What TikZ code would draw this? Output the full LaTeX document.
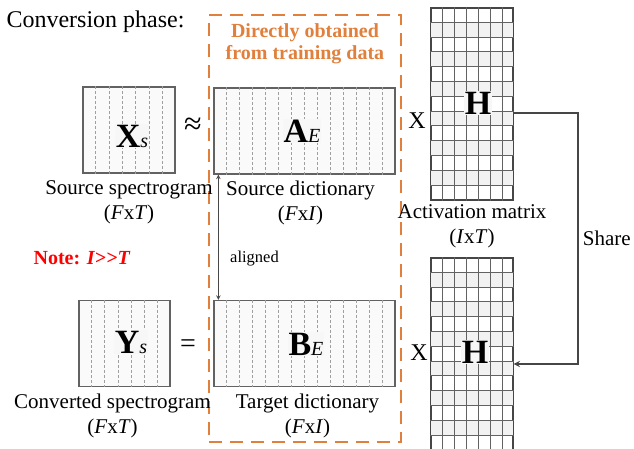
\documentclass[tikz,border=0pt]{standalone}
\usepackage{fontspec}
\setmainfont{Liberation Serif}
\usetikzlibrary{calc}

\definecolor{trainorange}{RGB}{224,128,60}
\definecolor{linegray}{RGB}{70,70,70}
\newcommand{\fsz}[1]{\fontsize{#1}{#1}\selectfont}

\tikzset{
  specbox/.style={draw=linegray!85, line width=1.3pt, fill=gray!4, inner sep=0pt,
    minimum width=#1, minimum height=86pt},
  hbox/.style={draw=linegray, line width=1.2pt, fill=white, inner sep=0pt,
    minimum width=82pt, minimum height=192pt},
  trainbox/.style={draw=trainorange, line width=1.8pt, dash pattern=on 13pt off 8pt,
    minimum width=192pt, minimum height=427pt, inner sep=0pt},
  colline/.style={gray!75, densely dashed, line width=0.6pt},
  gridline/.style={linegray!85, line width=0.8pt},
  bigletter/.style={font=\bfseries\fsz{34}, fill=gray!6, inner sep=1pt},
  oper/.style={font=\fsz{24}},
  lbl/.style={font=\fontsize{21}{25}\selectfont, align=center},
}

\begin{document}
\begin{tikzpicture}[x=1pt, y=-1pt, >=stealth]
  \useasboundingbox (0,0) rectangle (634,449);

  % Title and training box
  \node[anchor=west, font=\fsz{24}] (phase) at (3,22) {Conversion phase:};
  \node[trainbox] (train) at (305,228.5) {};
  \node[below=6pt, align=center, text=trainorange, font=\bfseries\fontsize{20}{22}\selectfont]
    (traintxt) at (train.north) {Directly obtained\\from training data};

  % Spectrogram and dictionary boxes
  \node[specbox=92pt] (xs) at (129,130) {};
  \node[specbox=181pt] (ae) at (304.5,131) {};
  \node[specbox=91pt] (ys) at (124.5,343.5) {};
  \node[specbox=181pt] (be) at (304.5,343.5) {};
  \foreach \b/\n in {xs/7,ys/7,ae/14,be/14} {
    \pgfmathtruncatemacro{\m}{\n-1}
    \foreach \k in {1,...,\m}
      \draw[colline] ($(\b.north west)!\k/\n!(\b.north east)$) -- ($(\b.south west)!\k/\n!(\b.south east)$);
  }

  % Activation matrices
  \node[hbox] (hA) at (472,104) {};
  \node[hbox] (hB) at (472,354) {};
  \foreach \b in {hA,hB} {
    \foreach \k in {1,3,...,11}
      \fill[gray!10] ($(\b.north west)+(1,14.8*\k)$) rectangle ($(\b.north east)+(-1,14.8*\k+14.8)$);
    \foreach \k in {1,...,6}
      \draw[gridline] ($(\b.north west)+(12*\k,0)$) -- ($(\b.south west)+(12*\k,0)$);
    \foreach \k in {1,...,12}
      \draw[gridline] ($(\b.north west)+(0,14.8*\k)$) -- ($(\b.north east)+(0,14.8*\k)$);
  }

  % Matrix letters
  \node[bigletter] (xsl) at (132,136) {X{\mdseries\itshape\fsz{20}s}};
  \node[bigletter] (ael) at (302,131) {A{\mdseries\itshape\fsz{20}E}};
  \node[bigletter] (ysl) at (131,342) {Y{\mdseries\itshape\fsz{20}s}};
  \node[bigletter] (bel) at (306,344) {B{\mdseries\itshape\fsz{20}E}};
  \node[bigletter] (hAl) at (478,103) {H};
  \node[bigletter] (hBl) at (475,352) {H};

  % Operators
  \node[oper, font=\fsz{32}] (approx) at (193,126) {≈};
  \node[oper] (timesA) at (417,121) {X};
  \node[oper, font=\fsz{28}] (equal) at (188,346) {=};
  \node[oper] (timesB) at (419,353) {X};

  % Labels
  \node[lbl, below=3pt] (xslbl) at (xs.south) {Source spectrogram\\(\textit{F}x\textit{T})};
  \node[lbl, below=3pt] (aelbl) at ([xshift=-4pt]ae.south) {Source dictionary\\(\textit{F}x\textit{I})};
  \node[lbl, below=0pt] (hAlbl) at (hA.south) {Activation matrix\\(\textit{I}x\textit{T})};
  \node[lbl, below=3pt] (yslbl) at ([xshift=-12pt]ys.south) {Converted spectrogram\\(\textit{F}x\textit{T})};
  \node[lbl, below=3pt] (belbl) at ([xshift=3pt]be.south) {Target dictionary\\(\textit{F}x\textit{I})};
  \node[text=red, font=\bfseries\fsz{20}] (note) at (82,258) {Note: \textit{I{>}{>}T}};

  % Connectors
  \draw[<->, linegray, line width=1pt] ([xshift=5pt]ae.south west) --
    node[pos=0.67, right=8pt, text=black, font=\fsz{16.5}] {aligned} ([xshift=5pt]be.north west);
  \draw[->, linegray, line width=1.8pt] ([yshift=-9pt]hA.east) -- ++(64,0) coordinate (sharecorner)
    |- node[pos=0.25, right=1pt, text=black, font=\fsz{21}] {Share} ([yshift=-10pt]hB.east);
\end{tikzpicture}
\end{document}
